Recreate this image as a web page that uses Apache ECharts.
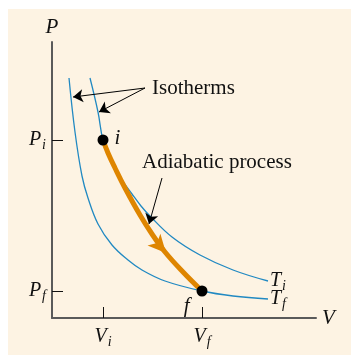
<!DOCTYPE html>
<html>
<head>
<meta charset="utf-8">
<script src="https://cdn.jsdelivr.net/npm/echarts@6/dist/echarts.min.js"></script>
<style>html,body{margin:0;padding:0;background:#fff;}#c{width:351px;height:355px;}</style>
</head>
<body>
<div id="c"></div>
<script>
// Data (V, P in arbitrary units)
var isothermTi = [[3.8,24.0],[4.6,20.6],[5.1,17.8],[6.0,15.5],[7.0,13.8],[8.0,12.4],[8.9,11.2],[9.8,10.2],[12.0,8.1],[14.8,6.3],[18.1,4.8],[21.6,3.7]];
var isothermTf = [[1.7,24.0],[2.3,18.6],[3.0,14.2],[3.6,12.0],[4.6,9.4],[6.0,7.3],[7.6,5.8],[9.0,4.8],[11.3,3.7],[15.0,2.7],[18.1,2.2],[21.6,1.9]];
var adiabatic = [[5.1,17.8],[5.6,16.5],[6.3,15.0],[7.3,13.0],[8.8,10.3],[10.0,8.4],[11.3,6.6],[13.1,4.6],[15.0,2.7]];
var statePoints = [[5.1,17.8],[15.0,2.7]];
var stateNames = ['i','f'];
var xTickValues = [5.1, 15.0];
var xTickSubs = ['i','f'];
var yTickValues = [2.7, 17.8];
var yTickSubs = ['f','i'];
var curveNames = ['T', 'T'];
var curveSubs = ['i', 'f'];
var arrowOnAdiabatic = [[11.4,6.5]];
var isothermArrows = [[[9.3,23.0],[2.1,22.1]],[[9.3,23.0],[4.7,20.6]]];
var adiabaticArrow = [[11.0,14.0],[9.7,9.4]];

var SERIF = 'Liberation Serif';
var BLUE = '#2189c2';
var ORANGE = '#de8500';

function richSub(main, sub){ return '{m|' + main + '}{s|' + sub + '}'; }
var richStyle = {
  m: {fontFamily: SERIF, fontStyle: 'italic', fontSize: 20, color: '#111'},
  s: {fontFamily: SERIF, fontStyle: 'italic', fontSize: 14, color: '#111', padding: [11,0,0,1]}
};

var chart = echarts.init(document.getElementById('c'), null, {renderer: 'canvas'});
var option = {
  backgroundColor: '#ffffff',
  animation: false,
  graphic: [
    {type: 'rect', left: 8, top: 9, z: -100, silent: true, shape: {width: 343, height: 346}, style: {fill: '#fdf3e3'}},
    {type: 'text', left: 152, top: 78, silent: true, style: {text: 'Isotherms', fontFamily: SERIF, fontSize: 21, fill: '#111'}},
    {type: 'text', left: 142, top: 152, silent: true, style: {text: 'Adiabatic process', fontFamily: SERIF, fontSize: 21, fill: '#111'}}
  ],
  grid: {left: 52, right: 35, top: 42, bottom: 37},
  xAxis: {
    type: 'value', min: 0, max: 26.4,
    splitLine: {show: false},
    axisLine: {show: true, lineStyle: {color: '#5a5a5a', width: 2}},
    axisTick: {show: true, inside: true, length: 11, customValues: xTickValues, lineStyle: {color: '#111', width: 1}},
    axisLabel: {show: true, margin: 6, customValues: xTickValues,
      formatter: function(v){ var k = xTickValues.indexOf(v); return richSub('V', xTickSubs[k]); },
      rich: richStyle},
    name: 'V', nameLocation: 'end', nameGap: 6,
    nameTextStyle: {fontFamily: SERIF, fontStyle: 'italic', fontSize: 21, color: '#111', verticalAlign: 'middle'}
  },
  yAxis: {
    type: 'value', min: 0, max: 27.6,
    splitLine: {show: false},
    axisLine: {show: true, lineStyle: {color: '#5a5a5a', width: 2}},
    axisTick: {show: true, inside: true, length: 11, customValues: yTickValues, lineStyle: {color: '#111', width: 1}},
    axisLabel: {show: true, margin: 6, customValues: yTickValues,
      formatter: function(v){ var k = yTickValues.indexOf(v); return richSub('P', yTickSubs[k]); },
      rich: richStyle},
    name: 'P', nameLocation: 'end', nameGap: 4,
    nameTextStyle: {fontFamily: SERIF, fontStyle: 'italic', fontSize: 21, color: '#111', verticalAlign: 'bottom', align: 'center'}
  },
  series: [
    {type: 'line', data: isothermTi, smooth: 0.4, showSymbol: false, silent: true,
      lineStyle: {color: BLUE, width: 1.3},
      endLabel: {show: true, distance: 2, formatter: function(){ return richSub(curveNames[0], curveSubs[0]); }, rich: richStyle}},
    {type: 'line', data: isothermTf, smooth: 0.4, showSymbol: false, silent: true,
      lineStyle: {color: BLUE, width: 1.3},
      endLabel: {show: true, distance: 2, formatter: function(){ return richSub(curveNames[1], curveSubs[1]); }, rich: richStyle}},
    {type: 'line', data: adiabatic, smooth: 0.4, showSymbol: false, silent: true, z: 3,
      lineStyle: {color: ORANGE, width: 5, cap: 'butt'}},
    {type: 'scatter', data: arrowOnAdiabatic, symbol: 'arrow', symbolSize: [13, 18], symbolRotate: -138, silent: true, z: 4,
      itemStyle: {color: ORANGE, opacity: 1}},
    {type: 'scatter', data: statePoints, symbolSize: 11, silent: true, z: 5, itemStyle: {color: '#000', opacity: 1},
      label: {show: true, fontFamily: SERIF, fontStyle: 'italic', fontSize: 21, color: '#111',
        formatter: function(p){ return stateNames[p.dataIndex]; }},
      markLine: {
        silent: true, symbol: ['none', 'arrow'], symbolSize: 10,
        label: {show: false},
        lineStyle: {color: '#000', width: 1, type: 'solid'},
        data: [
          [{coord: isothermArrows[0][0]}, {coord: isothermArrows[0][1]}],
          [{coord: isothermArrows[1][0]}, {coord: isothermArrows[1][1]}],
          [{coord: adiabaticArrow[0]}, {coord: adiabaticArrow[1]}]
        ]
      }
    }
  ]
};
// per-point label placement
option.series[4].data = statePoints.map(function(p, k){
  return {value: p, label: k === 0 ? {position: 'right', distance: 6, offset: [0, -2]} : {position: 'left', distance: 6, offset: [-1, 15]}};
});
chart.setOption(option);
</script>
</body>
</html>
